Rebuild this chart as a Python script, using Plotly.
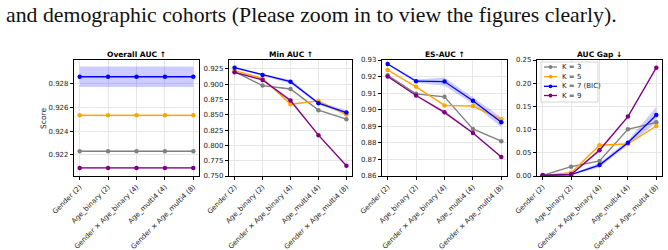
import plotly.graph_objects as go

W, H = 668, 250

categories = ["Gender (2)", "Age_binary (2)", "Gender × Age_binary (4)",
              "Age_multi4 (4)", "Gender × Age_multi4 (8)"]
series_names = ["K = 3", "K = 5", "K = 7 (BIC)", "K = 9"]
panel_titles = ["Overall AUC ↑", "Min AUC ↑", "ES-AUC ↑", "AUC Gap ↓"]

# Overall AUC
overall_k3 = [0.92231, 0.92231, 0.92231, 0.92231, 0.92231]
overall_k5 = [0.92532, 0.92532, 0.92532, 0.92532, 0.92532]
overall_k7 = [0.92855, 0.92855, 0.92855, 0.92855, 0.92855]
overall_k9 = [0.92092, 0.92092, 0.92092, 0.92092, 0.92092]
overall_sd_k3 = [0.00004] * 5
overall_sd_k5 = [0.0001] * 5
overall_sd_k7 = [0.00085] * 5
overall_sd_k9 = [0.00008] * 5

# Min AUC
min_k3 = [0.9206, 0.8978, 0.8923, 0.8577, 0.8429]
min_k5 = [0.9223, 0.9098, 0.8673, 0.8727, 0.8505]
min_k7 = [0.9272, 0.9152, 0.9042, 0.8690, 0.8538]
min_k9 = [0.9195, 0.9071, 0.8734, 0.8168, 0.7668]
min_sd_k3 = [0.0005, 0.0008, 0.001, 0.001, 0.001]
min_sd_k5 = [0.001, 0.001, 0.001, 0.001, 0.001]
min_sd_k7 = [0.0012, 0.0015, 0.003, 0.002, 0.004]
min_sd_k9 = [0.001, 0.001, 0.003, 0.001, 0.001]

# ES-AUC
es_k3 = [0.9208, 0.9096, 0.9078, 0.8884, 0.8810]
es_k5 = [0.9240, 0.9138, 0.9026, 0.9022, 0.8942]
es_k7 = [0.9276, 0.9172, 0.9170, 0.9054, 0.8924]
es_k9 = [0.9200, 0.9086, 0.8984, 0.8860, 0.8714]
es_sd_k3 = [0.0003, 0.0003, 0.0003, 0.0003, 0.0003]
es_sd_k5 = [0.0004, 0.0004, 0.0006, 0.0005, 0.0008]
es_sd_k7 = [0.0005, 0.001, 0.0025, 0.002, 0.003]
es_sd_k9 = [0.0004, 0.0005, 0.001, 0.0005, 0.0005]

# AUC Gap
gap_k3 = [0.0015, 0.0200, 0.0324, 0.1006, 0.1157]
gap_k5 = [0.0015, 0.0070, 0.0663, 0.0690, 0.1078]
gap_k7 = [0.0015, 0.0030, 0.0235, 0.0716, 0.1315]
gap_k9 = [0.0015, 0.0030, 0.0555, 0.1280, 0.2334]
gap_sd_k3 = [0.0005, 0.001, 0.001, 0.001, 0.001]
gap_sd_k5 = [0.0005, 0.001, 0.002, 0.002, 0.002]
gap_sd_k7 = [0.0005, 0.001, 0.005, 0.005, 0.017]
gap_sd_k9 = [0.0005, 0.001, 0.004, 0.002, 0.002]

panels = [
    ([overall_k3, overall_k5, overall_k7, overall_k9],
     [overall_sd_k3, overall_sd_k5, overall_sd_k7, overall_sd_k9]),
    ([min_k3, min_k5, min_k7, min_k9],
     [min_sd_k3, min_sd_k5, min_sd_k7, min_sd_k9]),
    ([es_k3, es_k5, es_k7, es_k9],
     [es_sd_k3, es_sd_k5, es_sd_k7, es_sd_k9]),
    ([gap_k3, gap_k5, gap_k7, gap_k9],
     [gap_sd_k3, gap_sd_k5, gap_sd_k7, gap_sd_k9]),
]

y_ranges = [[0.92024, 0.92995], [0.750, 0.9397], [0.86, 0.93], [0.0, 0.25]]
y_ticks = [[0.922, 0.924, 0.926, 0.928],
           [0.750, 0.775, 0.800, 0.825, 0.850, 0.875, 0.900, 0.925],
           [0.86, 0.87, 0.88, 0.89, 0.90, 0.91, 0.92, 0.93],
           [0.00, 0.05, 0.10, 0.15, 0.20, 0.25]]
y_fmt = [".3f", ".3f", ".2f", ".2f"]

colors = ["#808080", "#FFA500", "#0000FF", "#800080"]
fills = ["rgba(128,128,128,0.2)", "rgba(255,165,0,0.22)",
         "rgba(0,0,255,0.2)", "rgba(128,0,128,0.2)"]

# layout geometry (pixels)
panel_x = [(74, 199), (229, 352), (382, 507), (537, 662)]
top_px, bot_px = 60, 176

def px_x(p):
    return p / W

def px_y(p):
    return 1 - p / H

FONT = "DejaVu Sans"
TICK_FS = 7
fig = go.Figure()
xs = list(range(len(categories)))

layout = dict(
    width=W, height=H, autosize=False,
    margin=dict(l=0, r=0, t=0, b=0),
    paper_bgcolor="white", plot_bgcolor="white",
    showlegend=False,
    font=dict(family=FONT, size=7, color="#222222"),
)

annotations = []
shapes = []

for i, (vals, sds) in enumerate(panels):
    xa = "x" if i == 0 else f"x{i+1}"
    ya = "y" if i == 0 else f"y{i+1}"
    for s in range(4):
        v, sd = vals[s], sds[s]
        up = [a + b for a, b in zip(v, sd)]
        lo = [a - b for a, b in zip(v, sd)]
        fig.add_trace(go.Scatter(
            x=xs + xs[::-1], y=up + lo[::-1], fill="toself",
            fillcolor=fills[s], line=dict(width=0), mode="lines",
            hoverinfo="skip", xaxis=xa, yaxis=ya))
    for s in range(4):
        fig.add_trace(go.Scatter(
            x=xs, y=vals[s], mode="lines+markers", name=series_names[s],
            line=dict(color=colors[s], width=1.3),
            marker=dict(color=colors[s], size=4.5),
            xaxis=xa, yaxis=ya))
    x0, x1 = panel_x[i]
    key = "" if i == 0 else str(i + 1)
    layout["xaxis" + key] = dict(
        domain=[px_x(x0), px_x(x1)], anchor=ya, range=[-0.2, 4.2],
        tickmode="array", tickvals=xs, ticktext=categories, tickangle=-45,
        showgrid=True, gridcolor="#e6e6e6", gridwidth=0.8, zeroline=False,
        showline=True, linecolor="black", linewidth=1.2, mirror=True,
        ticks="outside", ticklen=3, tickwidth=0.8, tickcolor="black",
        tickfont=dict(family=FONT, size=TICK_FS, color="#222222"),
        automargin=False, fixedrange=True)
    layout["yaxis" + key] = dict(
        domain=[px_y(bot_px), px_y(top_px)], anchor=xa, range=y_ranges[i],
        tickmode="array", tickvals=y_ticks[i], tickformat=y_fmt[i],
        showgrid=True, gridcolor="#e6e6e6", gridwidth=0.8, zeroline=False,
        showline=True, linecolor="black", linewidth=1.2, mirror=True,
        ticks="outside", ticklen=3, tickwidth=0.8, tickcolor="black",
        tickfont=dict(family=FONT, size=TICK_FS, color="#222222"),
        automargin=False, fixedrange=True)
    annotations.append(dict(
        text="<b>" + panel_titles[i] + "</b>", xref="paper", yref="paper",
        x=px_x((x0 + x1) / 2), y=px_y(55), xanchor="center", yanchor="middle",
        showarrow=False, font=dict(family=FONT, size=7.5, color="black")))

# y-axis title of first panel
annotations.append(dict(
    text="Score", xref="paper", yref="paper", x=px_x(43), y=px_y(118),
    xanchor="center", yanchor="middle", textangle=-90, showarrow=False,
    font=dict(family=FONT, size=7.5, color="#222222")))

# caption text
annotations.append(dict(
    text="and demographic cohorts (Please zoom in to view the figures clearly).",
    xref="paper", yref="paper", x=px_x(4), y=px_y(15), xanchor="left",
    yanchor="middle", showarrow=False,
    font=dict(family="Liberation Serif", size=21.8, color="#111111")))

# manual legend inside the AUC Gap panel
lx0, lx1, ly0, ly1 = 541, 598, 62, 102
shapes.append(dict(type="rect", xref="paper", yref="paper",
                   x0=px_x(lx0), x1=px_x(lx1), y0=px_y(ly1), y1=px_y(ly0),
                   line=dict(color="#cccccc", width=0.8),
                   fillcolor="rgba(255,255,255,0.8)", layer="above"))
entry_y = [67, 76.7, 86.3, 95.5]
for s in range(4):
    yy = px_y(entry_y[s])
    shapes.append(dict(type="line", xref="paper", yref="paper",
                       x0=px_x(544), x1=px_x(557), y0=yy, y1=yy,
                       line=dict(color=colors[s], width=1.3), layer="above"))
    shapes.append(dict(type="circle", xref="paper", yref="paper",
                       x0=px_x(548.6), x1=px_x(552.4),
                       y0=yy - 1.9 / H, y1=yy + 1.9 / H,
                       fillcolor=colors[s], line=dict(width=0), layer="above"))
    annotations.append(dict(
        text=series_names[s], xref="paper", yref="paper",
        x=px_x(560), y=yy, xanchor="left", yanchor="middle", showarrow=False,
        font=dict(family=FONT, size=7, color="#222222")))

layout["annotations"] = annotations
layout["shapes"] = shapes
fig.update_layout(**layout)

fig.write_html("out.html")
